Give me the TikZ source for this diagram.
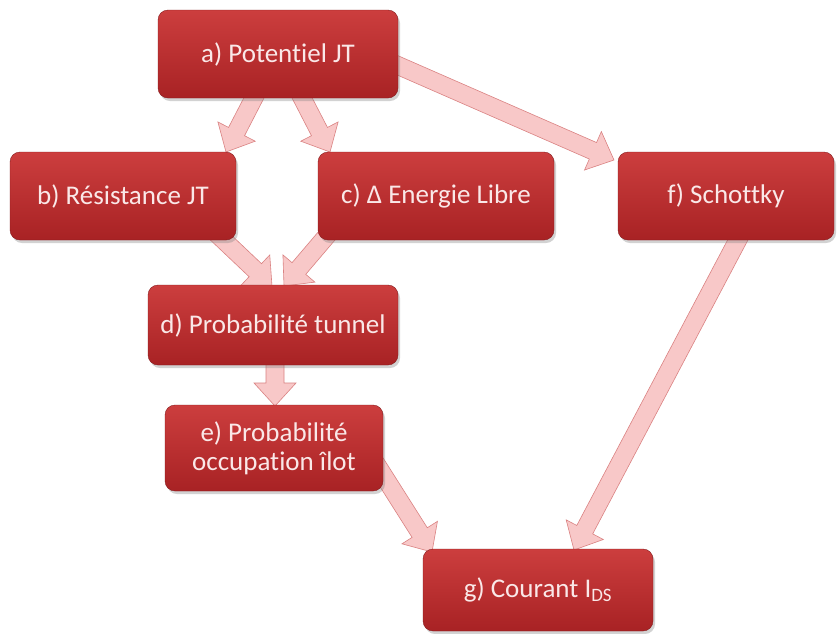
\documentclass[tikz,border=0pt]{standalone}
\usepackage{fontspec}
\setmainfont{Carlito}[Ligatures={NoCommon}]
\usetikzlibrary{calc,backgrounds,shadows}
\definecolor{boxtop}{RGB}{204,62,62}
\definecolor{boxbot}{RGB}{168,34,36}
\definecolor{boxtext}{RGB}{250,232,232}
\definecolor{arrfill}{RGB}{248,200,200}
\definecolor{arrline}{RGB}{218,130,130}
\tikzset{
  box/.style={rounded corners=10pt, top color=boxtop, bottom color=boxbot,
    draw=boxbot!80!black, line width=0.4pt, text=boxtext, align=center,
    font=\fontsize{27}{29}\selectfont,
    drop shadow={shadow xshift=2pt, shadow yshift=-3pt, opacity=0.35}},
  arrsty/.style={fill=arrfill, draw=arrline, line width=0.6pt, line join=miter}
}
\newcommand\blockarr[2]{%
  \coordinate (bah) at ($(#2)!23pt!(#1)$);
  \filldraw[arrsty] ($(#1)!9pt!90:(#2)$) -- ($(bah)!9pt!-90:(#1)$) -- ($(bah)!21pt!-90:(#1)$) -- (#2)
    -- ($(bah)!21pt!90:(#1)$) -- ($(bah)!9pt!90:(#1)$) -- ($(#1)!9pt!-90:(#2)$) -- cycle;}
\begin{document}
\begin{tikzpicture}[x=1pt,y=-1pt]
\useasboundingbox (0,0) rectangle (838,633);
\node[box, minimum width=240pt, minimum height=88pt] (a) at (278,54) {a) Potentiel JT};
\node[box, minimum width=226pt, minimum height=88pt] (b) at (123,196) {b) Résistance JT};
\node[box, minimum width=236pt, minimum height=88pt] (c) at (436,196) {c) Δ Energie Libre};
\node[box, minimum width=216pt, minimum height=88pt] (f) at (726,196) {f) Schottky};
\node[box, minimum width=250pt, minimum height=80pt] (d) at (273,325) {d) Probabilité tunnel};
\node[box, minimum width=218pt, minimum height=86pt] (e) at (274,448) {e) Probabilité\\occupation îlot};
\node[box, minimum width=230pt, minimum height=82pt] (g) at (538,590) {g) Courant I\textsubscript{DS}};
\coordinate (ab1) at (258,90);  \coordinate (ab2) at (226,152);
\coordinate (ac1) at (298,90);  \coordinate (ac2) at (330,152);
\coordinate (af1) at (390,62);  \coordinate (af2) at (614,160);
\coordinate (bd1) at (215,232); \coordinate (bd2) at (272,286);
\coordinate (cd1) at (330,232); \coordinate (cd2) at (284,286);
\coordinate (de1) at (275,358); \coordinate (de2) at (275,406);
\coordinate (eg1) at (375,462); \coordinate (eg2) at (432,552);
\coordinate (fg1) at (742,232); \coordinate (fg2) at (574,550);
\begin{scope}[on background layer]
\fill[white] (0,0) rectangle (838,633);
\blockarr{ab1}{ab2}
\blockarr{ac1}{ac2}
\blockarr{af1}{af2}
\blockarr{bd1}{bd2}
\blockarr{cd1}{cd2}
\blockarr{de1}{de2}
\blockarr{eg1}{eg2}
\blockarr{fg1}{fg2}
\end{scope}
\end{tikzpicture}
\end{document}
